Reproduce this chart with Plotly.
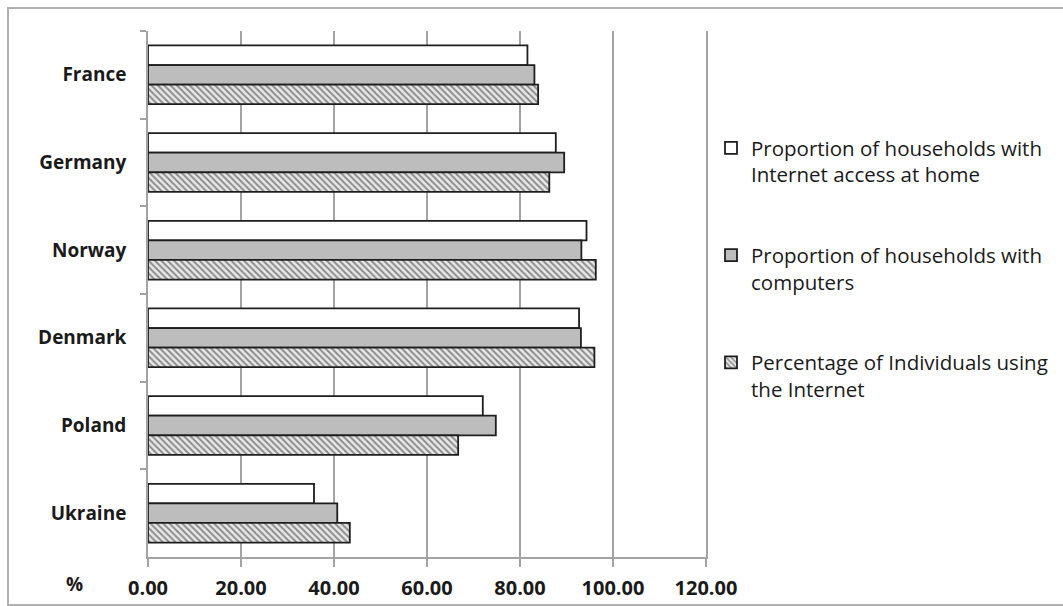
import plotly.graph_objects as go

# Countries, top to bottom
countries = ["France", "Germany", "Norway", "Denmark", "Poland", "Ukraine"]

# Series values (%)
internet_home = [81.6, 87.7, 94.3, 92.7, 72.0, 35.7]
computers = [83.1, 89.5, 93.2, 93.1, 74.8, 40.7]
individuals_internet = [83.9, 86.3, 96.3, 96.0, 66.7, 43.4]

series_names = [
    "Proportion of households with<br>Internet access at home",
    "Proportion of households with<br>computers",
    "Percentage of Individuals using<br>the Internet",
]

tick_values = [0, 20, 40, 60, 80, 100, 120]
tick_labels = ["0.00", "20.00", "40.00", "60.00", "80.00", "100.00", "120.00"]

FONT = "Open Sans"
OUTLINE = dict(color="#1e1e1e", width=1.8)

fig = go.Figure()

fig.add_trace(go.Bar(
    y=countries, x=internet_home, orientation="h", name=series_names[0],
    legendgroup="a",
    marker=dict(color="white", line=OUTLINE),
))
fig.add_trace(go.Bar(
    y=countries, x=computers, orientation="h", name=series_names[1],
    legendgroup="b",
    marker=dict(color="#bdbdbd", line=OUTLINE),
))
fig.add_trace(go.Bar(
    y=countries, x=individuals_internet, orientation="h", name=series_names[2],
    legendgroup="c",
    marker=dict(
        color="white", line=OUTLINE,
        pattern=dict(shape="\\", fgcolor="#2e2e2e", bgcolor="#e9e9e9",
                     size=4.5, solidity=0.45),
    ),
))

# plot area spans x 148..706 and y 31..557 in page pixels
L, R, T, B = 148, 357, 31, 49
W, H = 1063 - L - R, 606 - T - B


def px(x):
    return (x - L) / W


def py(y):
    return (606 - B - y) / H


fig.update_layout(
    width=1063, height=606,
    margin=dict(l=L, r=R, t=T, b=B, autoexpand=False),
    paper_bgcolor="white", plot_bgcolor="white",
    barmode="group", bargap=0.33, bargroupgap=0.0,
    font=dict(family=FONT, color="#1a1a1a"),
    legend=dict(
        x=px(711), y=py(128), xanchor="left", yanchor="top",
        font=dict(family=FONT, size=20.5, color="#1a1a1a"),
        tracegroupgap=51, valign="top", bgcolor="rgba(0,0,0,0)",
        itemwidth=30,
    ),
    xaxis=dict(
        range=[0, 120], tickvals=tick_values, ticktext=tick_labels,
        showgrid=True, gridcolor="#a3a3a3", gridwidth=1.6,
        showline=True, linecolor="#a3a3a3", linewidth=1.6,
        ticks="outside", ticklen=8, tickcolor="#a3a3a3", tickwidth=1.6,
        tickfont=dict(family=FONT, size=20, color="#1a1a1a", weight="bold"),
        ticklabelstandoff=4, zeroline=False, fixedrange=True,
        automargin=False,
    ),
    yaxis=dict(
        autorange="reversed", categoryorder="array", categoryarray=countries,
        showline=True, linecolor="#a3a3a3", linewidth=1.6, mirror=True,
        ticks="outside", ticklen=6, tickcolor="#a3a3a3", tickwidth=1.6,
        tickson="boundaries", showgrid=False,
        tickfont=dict(family=FONT, size=19, color="#1a1a1a", weight="bold"),
        ticklabelstandoff=16, fixedrange=True, automargin=False,
    ),
    shapes=[
        dict(type="rect", xref="paper", yref="paper",
             x0=px(8), x1=px(1068), y0=py(605), y1=py(8),
             line=dict(color="#b0b0b0", width=2), layer="below"),
    ],
    annotations=[
        dict(text="<b>%</b>", xref="paper", yref="paper",
             x=px(74), y=py(584), xanchor="center", yanchor="middle",
             showarrow=False,
             font=dict(family=FONT, size=19, color="#1a1a1a")),
    ],
)

fig.write_html("out.html")
